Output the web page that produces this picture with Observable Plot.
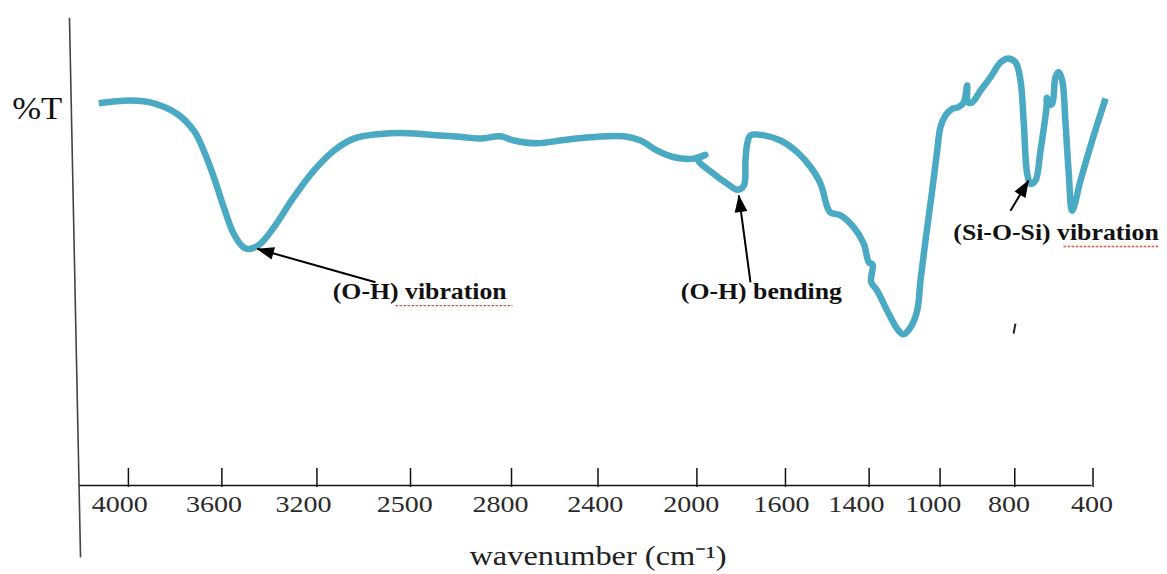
<!DOCTYPE html>
<html><head><meta charset="utf-8">
<script src="https://cdn.jsdelivr.net/npm/d3@7"></script>
<script src="https://cdn.jsdelivr.net/npm/@observablehq/plot@0.6"></script>
<style>html,body{margin:0;padding:0;background:#fff;} svg{display:block}</style>
</head><body><div id="chart"></div>
<script>
// Position along the (hand-drawn) wavenumber axis, in tick units (0 = "4000" tick, 11 = "400" tick)
const wavePos = [-0.338,0.024,0.290,0.557,0.746,0.860,0.974,1.088,1.202,1.316,1.392,1.506,1.658,1.886,2.114,2.342,2.570,2.875,3.103,3.407,3.825,4.015,4.243,4.395,4.662,4.965,5.270,5.649,5.840,6.030,6.220,6.448,6.580,6.495,6.676,6.829,6.943,7.018,7.037,7.057,7.094,7.246,7.436,7.627,7.779,7.893,7.969,8.007,8.121,8.272,8.386,8.443,8.486,8.470,8.539,8.653,8.767,8.836,8.919,8.995,9.033,9.090,9.166,9.223,9.261,9.318,9.394,9.470,9.527,9.565,9.575,9.623,9.717,9.831,9.945,10.022,10.116,10.173,10.211,10.250,10.288,10.344,10.401,10.470,10.475,10.504,10.535,10.572,10.610,10.649,10.687,10.724,10.763,10.858,10.991,11.143];
// %T (arbitrary units, 0 = x axis)
const transmittance = [82.2,82.8,82.2,79.9,76.3,72.0,66.3,59.8,54.1,51.2,50.9,52.0,55.5,62.0,67.7,72.0,74.6,75.6,75.8,75.5,74.9,74.6,75.1,74.2,73.6,74.3,74.9,75.1,74.2,72.0,70.6,70.3,71.1,70.1,67.0,64.9,63.6,64.5,69.9,73.5,75.3,75.3,74.2,71.7,68.5,64.9,59.9,58.7,58.1,55.5,52.0,48.0,47.5,43.8,41.9,37.6,33.7,32.5,34.0,37.6,44.1,52.7,63.4,72.0,77.1,79.6,81.0,81.4,82.4,86.0,82.4,82.4,84.9,87.8,91.0,91.8,91.0,87.1,77.8,67.0,64.9,65.6,72.0,81.4,83.4,81.9,82.1,87.8,88.9,87.1,77.8,67.0,59.1,65.6,74.2,83.2];

const tickPos = [0, 1.066, 2.150, 3.217, 4.369, 5.355, 6.483, 7.493, 8.447, 9.256, 10.108, 11.0];
const tickLabels = ["4000","3600","3200","2500","2800","2400","2000","1600","1400","1000","800","400"];
const labelPos = [-0.098, 0.977, 1.996, 3.152, 4.243, 5.324, 6.418, 7.447, 8.302, 9.178, 10.043, 10.989];

const annotLabels = ["(O-H) vibration", "(O-H) bending", "(Si-O-Si) vibration"];
const annotX = [3.322, 7.218, 10.578];
const annotY = [41.6, 41.6, 54.4];
const arrowFromX = [2.818, 7.094, 10.059];
const arrowFromY = [43.7, 43.7, 59.1];
const arrowToX = [1.469, 6.961, 10.265];
const arrowToY = [50.9, 62.4, 65.6];
// spell-check squiggle under "vibration"
const squiggleX1 = [3.046, 10.664];
const squiggleX2 = [4.380, 11.746];
const squiggleY = [38.7, 51.4];

const yTitle = "%T";
const xTitle = "wavenumber (cm⁻¹)";

const spectrum = wavePos.map((x, i) => ({x, y: transmittance[i]}));
const serif = "'Liberation Serif', 'Times New Roman', serif";

const plot = Plot.plot({
  width: 1167, height: 574,
  marginLeft: 127.9, marginRight: 74.5, marginTop: 20, marginBottom: 89,
  x: {domain: [0, 11], axis: null},
  y: {domain: [0, 100], axis: null},
  style: {background: "#fff", fontFamily: serif, overflow: "visible"},
  marks: [
    // slanted y axis line
    Plot.link([0], {x1: [-0.672], y1: [100.6], x2: [-0.546], y2: [-15.5], stroke: "#444", strokeWidth: 1.6}),
    // x axis line
    Plot.link([0], {x1: [-0.562], y1: [0], x2: [10.983], y2: [0], stroke: "#111", strokeWidth: 1.5}),
    // ticks
    Plot.ruleX(tickPos, {x: d => d, y1: 3.66, y2: -0.43, stroke: "#111", strokeWidth: 1.5}),
    Plot.text(tickLabels, {x: labelPos, y: -4.2, text: d => d, fontFamily: serif, fontSize: 23, fill: "#2a2a2a", textAnchor: "middle", lineAnchor: "middle"}),
    // spectrum
    Plot.line(spectrum, {x: "x", y: "y", stroke: "#4aa9c3", strokeWidth: 6.5, curve: "catmull-rom", strokeLinejoin: "round", strokeLinecap: "butt"}),
    // annotations
    Plot.link(annotLabels, {x1: arrowFromX, y1: arrowFromY, x2: arrowToX, y2: arrowToY, stroke: "#000", strokeWidth: 2, markerEnd: "arrow"}),
    Plot.link(squiggleX1, {x1: squiggleX1, x2: squiggleX2, y1: squiggleY, y2: squiggleY, stroke: "#d9534f", strokeWidth: 1.3, strokeDasharray: "2.5,1.5"}),
    Plot.text(annotLabels, {x: annotX, y: annotY, text: d => d, fontFamily: serif, fontSize: 23, fontWeight: "bold", fill: "#111", textAnchor: "middle", lineAnchor: "middle"}),
    // stray mark
    Plot.link([0], {x1: [10.094], y1: [32.7], x2: [10.116], y2: [34.8], stroke: "#222", strokeWidth: 2}),
    // axis titles
    Plot.text([yTitle], {x: [-1.04], y: [80.9], text: d => d, fontFamily: serif, fontSize: 31, fill: "#111", textAnchor: "middle", lineAnchor: "middle"}),
    Plot.text([xTitle], {x: [5.355], y: [-15.3], text: d => d, fontFamily: serif, fontSize: 27, fill: "#222", textAnchor: "middle", lineAnchor: "middle"})
  ]
});
document.getElementById("chart").append(plot);

// filled arrowheads
d3.select(plot).selectAll("marker")
  .attr("overflow", "visible").attr("fill", "#000").attr("stroke", "none")
  .select("path").attr("d", "M-12.5,-4.8L0.5,0L-12.5,4.8Z");

// the reference text is horizontally stretched
const stretchOf = t => tickLabels.includes(t) ? 1.22 : annotLabels.includes(t) ? 1.12 : t === yTitle ? 1.12 : t === xTitle ? 1.2 : 1;
plot.querySelectorAll("text").forEach(t => {
  const f = stretchOf(t.textContent);
  if (f === 1) return;
  const w = t.getComputedTextLength();
  t.setAttribute("textLength", (w * f).toFixed(1));
  t.setAttribute("lengthAdjust", "spacingAndGlyphs");
});
</script></body></html>
